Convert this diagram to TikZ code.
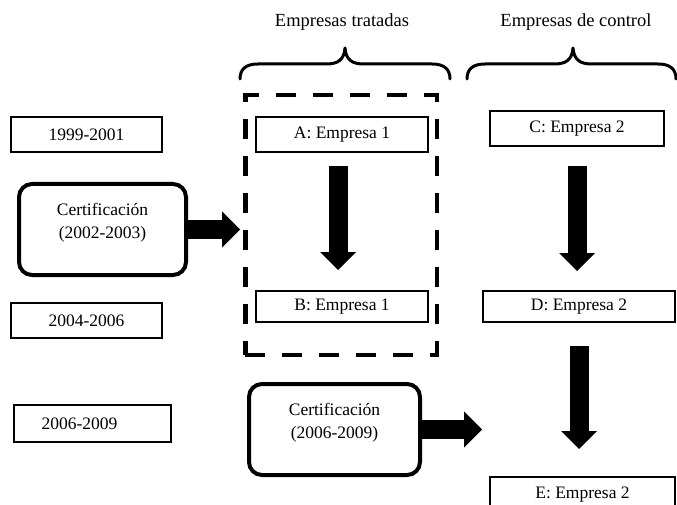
\documentclass[tikz,border=0pt]{standalone}
\usepackage{fontspec}
\setmainfont{Liberation Serif}
\usetikzlibrary{arrows.meta}
\begin{document}
\begin{tikzpicture}[x=1pt,y=-1pt,
  every node/.style={font=\fontsize{17.5}{23}\selectfont, inner sep=0pt},
  titletext/.style={font=\fontsize{18.5}{23}\selectfont},
  thinbox/.style={draw, line width=1.6pt, rectangle},
  certbox/.style={draw, line width=4pt, rounded corners=13pt, align=center},
  grpbox/.style={draw, line width=4.5pt, dash pattern=on 20pt off 17pt},
  bigarrow/.style={line width=19pt, -{Triangle[length=18pt,width=36pt,line width=0pt]}},
  bracestyle/.style={line width=3pt, line cap=round, line join=round},
  ]
\useasboundingbox (0,0) rectangle (677,505);

% titles
\node[titletext] (t1) at (342,22) {Empresas tratadas};
\node[titletext] (t2) at (576,22) {Empresas de control};

% braces
\draw[bracestyle] (240,79) .. controls (240,69) and (246,64) .. (258,64) -- (326,64)
  .. controls (338,64) and (344,60) .. (345,48)
  .. controls (346,60) and (352,64) .. (364,64) -- (432,64)
  .. controls (444,64) and (450,69) .. (450,79);
\draw[bracestyle] (467,79) .. controls (467,69) and (473,64) .. (485,64) -- (554,64)
  .. controls (566,64) and (572,60) .. (573,48)
  .. controls (574,60) and (580,64) .. (592,64) -- (658,64)
  .. controls (670,64) and (676,69) .. (676,79);

% period boxes
\node[thinbox, minimum width=151.4pt, minimum height=35.4pt] (y1) at (86.5,134.5) {1999-2001};
\node[thinbox, minimum width=151.4pt, minimum height=35.4pt] (y2) at (86.5,320.5) {2004-2006};
\node[thinbox, minimum width=157.4pt, minimum height=37.4pt] (y3) at (92.5,423.5) {\hspace*{-26pt}2006-2009};

% treated group
\node[grpbox, minimum width=191.5pt, minimum height=259.5pt] (grp) at (341,225) {};
\node[thinbox, minimum width=172.4pt, minimum height=35.4pt] (A) at (342,134.5) {A: Empresa 1};
\node[thinbox, minimum width=172.4pt, minimum height=31.4pt] (B) at (342,306.5) {B: Empresa 1};

% control group
\node[thinbox, minimum width=174.4pt, minimum height=35.4pt] (C) at (577,128.5) {C: Empresa 2};
\node[thinbox, minimum width=192.4pt, minimum height=31.4pt] (D) at (579,306.5) {D: Empresa 2};
\node[thinbox, minimum width=185.4pt, minimum height=35.4pt] (E) at (582.5,494.5) {E: Empresa 2};

% certification boxes
\node[certbox, minimum width=167pt, minimum height=91pt] (c1) at (102.5,229.5) {Certificación\\(2002-2003)\\[-6pt]};
\node[certbox, minimum width=171pt, minimum height=91pt] (c2) at (334.5,429.5) {Certificación\\(2006-2009)\\[-6pt]};

% arrows
\draw[bigarrow, shorten >=3pt] (c1.east) -- (c1.east -| grp.west);
\draw[bigarrow, shorten <=13pt, shorten >=20pt] ([xshift=-4pt]A.south) -- ([xshift=-4pt]B.north);
\draw[bigarrow, shorten <=19pt, shorten >=19pt] (C.south) -- (C.south |- D.north);
\draw[bigarrow, shorten <=23pt, shorten >=27pt] (D.south) -- (D.south |- E.north);
\draw[bigarrow, shorten >=7pt] (c2.east) -- (c2.east -| E.west);
\end{tikzpicture}
\end{document}
